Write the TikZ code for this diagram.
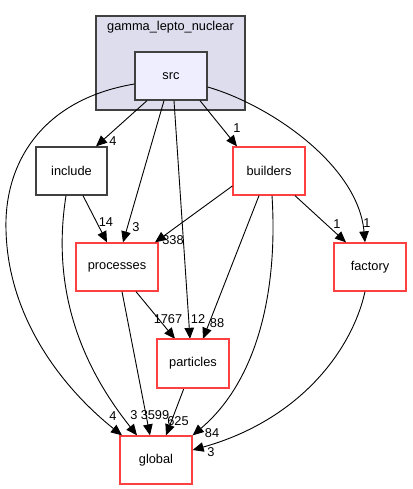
\documentclass[tikz,border=0pt]{standalone}
\usepackage{fontspec}
\setmainfont{Liberation Sans}
\usetikzlibrary{arrows.meta}
\definecolor{nodered}{RGB}{255,64,64}
\definecolor{darkborder}{RGB}{64,64,64}
\definecolor{clusterfill}{RGB}{221,221,238}
\definecolor{srcfill}{RGB}{238,238,255}
\begin{document}
\begin{tikzpicture}[x=1pt,y=-1pt,
  font=\fontsize{12.8}{15}\selectfont,
  dirbox/.style={draw=nodered,line width=1.3pt,fill=white,minimum width=72pt,minimum height=48pt,inner sep=0pt,anchor=center},
  plainbox/.style={draw=darkborder,line width=1.3pt,fill=white,minimum width=71pt,minimum height=48pt,inner sep=0pt},
  dep/.style={draw=black,line width=0.9pt,-{Triangle[length=11pt,width=9.5pt]}},
  lbl/.style={inner sep=0pt,font=\fontsize{12.8}{15}\selectfont}]
\useasboundingbox (0,0) rectangle (412,489);
% cluster
\node[draw=darkborder,line width=1.3pt,fill=clusterfill,minimum width=149pt,minimum height=94pt,inner sep=0pt] (cluster) at (170.5,63) {};
\node[inner sep=0pt] (clusterlabel) at (170.5,27) {gamma\_lepto\_nuclear};
% nodes
\node[draw=darkborder,line width=1.3pt,fill=srcfill,minimum width=72pt,minimum height=48pt,inner sep=0pt] (src) at (171,76) {src};
\node[plainbox] (include) at (71.5,171) {include};
\node[dirbox] (builders) at (269,171) {builders};
\node[dirbox,minimum width=82pt] (processes) at (117,267) {processes};
\node[dirbox] (factory) at (370,267) {factory};
\node[dirbox] (particles) at (193,363.5) {particles};
\node[dirbox] (global) at (156,460) {global};
% edges
\draw[dep] ([xshift=-24pt]src.south) -- ([xshift=24.5pt]include.north);
\draw[dep] ([xshift=-7pt]src.south) -- ([xshift=6pt]processes.north);
\draw[dep] ([xshift=3pt]src.south) -- ([xshift=-3pt]particles.north);
\draw[dep] ([xshift=29pt]src.south) -- ([xshift=-32pt]builders.north);
\draw[dep] ([yshift=-11pt]src.east) .. controls (270,105) and (358,165) .. ([xshift=-5pt]factory.north);
\draw[dep] ([yshift=-8pt]src.west) .. controls (40,100) and (4,165) .. (6,230) .. controls (8,320) and (65,390) .. ([xshift=-34pt]global.north);
\draw[dep] ([xshift=11.5pt]include.south) -- ([xshift=-10pt]processes.north);
\draw[dep] ([xshift=-5.5pt]include.south) .. controls (55,265) and (65,345) .. ([xshift=-19pt]global.north);
\draw[dep] ([yshift=-15pt]builders.west) -- ([xshift=38pt]processes.north);
\draw[dep] ([xshift=-10pt]builders.south) -- ([xshift=10pt]particles.north);
\draw[dep] ([xshift=3pt]builders.south) .. controls (278,290) and (258,380) .. (global.north east);
\draw[dep] ([xshift=26pt]builders.south) -- ([xshift=-24pt]factory.north);
\draw[dep] ([xshift=19pt]processes.south) -- ([xshift=-18pt]particles.north);
\draw[dep] ([xshift=5pt]processes.south) -- ([xshift=-6pt]global.north);
\draw[dep] ([xshift=-9pt]particles.south) -- ([xshift=10pt]global.north);
\draw[dep] ([xshift=-5pt]factory.south) .. controls (352,350) and (300,420) .. ([yshift=10pt]global.east);
% border of particles redrawn
\draw[nodered,line width=1.3pt] (particles.north west) rectangle (particles.south east);
% labels
\node[lbl] (l1) at (113,141) {4};
\node[lbl] (l2) at (136,227) {3};
\node[lbl] (l3) at (106,222) {14};
\node[lbl] (l4) at (173,240) {338};
\node[lbl] (l5) at (237,128) {1};
\node[lbl] (l6) at (337,224) {1};
\node[lbl] (l7) at (367,223) {1};
\node[lbl] (l8) at (168,319) {1767};
\node[lbl] (l9) at (198,319) {12};
\node[lbl] (l10) at (217,323) {88};
\node[lbl] (l11) at (113,416) {4};
\node[lbl] (l12) at (134,415) {3};
\node[lbl] (l13) at (155,415) {3599};
\node[lbl] (l14) at (178,421) {625};
\node[lbl] (l15) at (212,433) {84};
\node[lbl] (l16) at (211,452) {3};
\end{tikzpicture}
\end{document}
